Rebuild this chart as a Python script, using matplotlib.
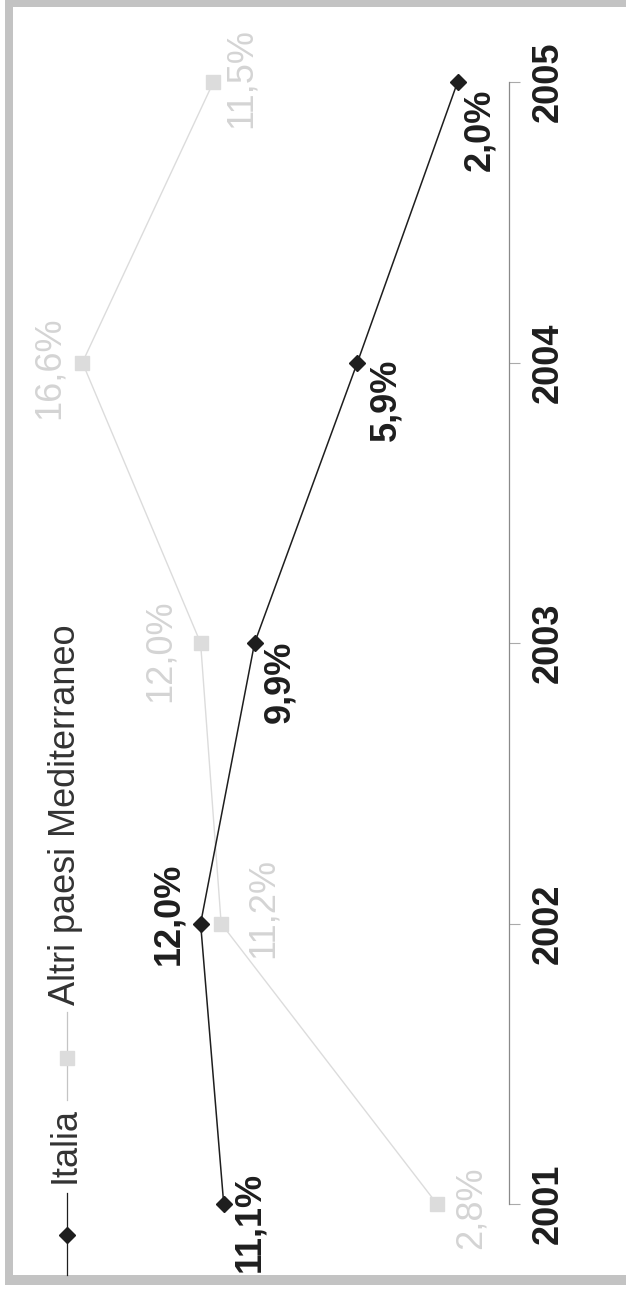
import matplotlib
matplotlib.use("Agg")
import matplotlib.pyplot as plt
from matplotlib.lines import Line2D
from matplotlib.patches import Rectangle

plt.rcParams['font.family'] = ['Liberation Sans', 'DejaVu Sans']

# data
years = [2001, 2002, 2003, 2004, 2005]
year_labels = ["2001", "2002", "2003", "2004", "2005"]
italia = [11.1, 12.0, 9.9, 5.9, 2.0]
altri = [2.8, 11.2, 12.0, 16.6, 11.5]
italia_labels = ["11,1%", "12,0%", "9,9%", "5,9%", "2,0%"]
altri_labels = ["2,8%", "11,2%", "12,0%", "16,6%", "11,5%"]
series_names = ["Italia", "Altri paesi Mediterraneo"]

# layout (pixels of the 626x1290 picture, y measured from top)
W, H = 626, 1290
ZERO_X = 509          # where value 0 sits
PX_PER_UNIT = 25.7
FIRST_Y = 1204        # where the first year sits
PX_PER_YEAR = 280.5
italia_off = [(26, 18), (-32, -10), (25, 39), (29, 37), (22, 48)]
altri_off = [(34, 4), (42, -15), (-40, 8), (-33, 5), (28, -4)]

DARK = "#1e1e1e"
LIGHT = "#dcdcdc"
LIGHT_TXT = "#d4d4d4"
FS = 26


def fpos(x, y):
    return x / W, 1 - y / H


fig = plt.figure(figsize=(W / 100, H / 100), dpi=100)
ax = fig.add_axes([0, 0, 1, 1])
ax.patch.set_visible(False)

# values grow to the left, years grow upwards
ax.set_xlim(ZERO_X / PX_PER_UNIT, -(W - ZERO_X) / PX_PER_UNIT)
ax.set_ylim(years[0] - (H - FIRST_Y) / PX_PER_YEAR, years[0] + FIRST_Y / PX_PER_YEAR)

ax.plot(altri, years, color=LIGHT, lw=1.0, marker='s', ms=10,
        mfc=LIGHT, mec=LIGHT, zorder=2)
ax.plot(italia, years, color=DARK, lw=1.1, marker='D', ms=8,
        mfc=DARK, mec=DARK, zorder=3)

for v, yr, lab, (dx, dy) in zip(italia, years, italia_labels, italia_off):
    ax.annotate(lab, (v, yr), xytext=(dx, -dy), textcoords='offset pixels',
                rotation=90, ha='center', va='center', fontsize=FS,
                fontweight='bold', color=DARK)
for v, yr, lab, (dx, dy) in zip(altri, years, altri_labels, altri_off):
    ax.annotate(lab, (v, yr), xytext=(dx, -dy), textcoords='offset pixels',
                rotation=90, ha='center', va='center', fontsize=FS,
                color=LIGHT_TXT)

# category axis drawn as the right spine at value 0
for s in ['top', 'bottom', 'left']:
    ax.spines[s].set_visible(False)
ax.spines['right'].set_position(('data', 0))
ax.spines['right'].set_bounds(years[0], years[-1])
ax.spines['right'].set_color("#8a8a8a")
ax.spines['right'].set_linewidth(0.9)
ax.set_xticks([])
ax.yaxis.tick_right()
ax.set_yticks(years)
ax.set_yticklabels(year_labels)
ax.tick_params(axis='y', direction='out', length=8, width=0.8, color="#aaaaaa",
               pad=8, labelsize=FS)
for t in ax.get_yticklabels():
    t.set_rotation(90)
    t.set_va('center')
    t.set_ha('left')
    t.set_fontweight('bold')
    t.set_color(DARK)

# legend, drawn by hand because it is turned on its side
fig.add_artist(Line2D([fpos(67, 1275)[0], fpos(67, 1193)[0]],
                      [fpos(67, 1275)[1], fpos(67, 1193)[1]],
                      transform=fig.transFigure, color=DARK, lw=0.9))
fig.add_artist(Line2D([fpos(67, 1235)[0]], [fpos(67, 1235)[1]],
                      transform=fig.transFigure, marker='D', ms=8,
                      color=DARK, lw=0))
fig.text(*fpos(75, 1183), series_names[0], rotation=90, rotation_mode='anchor',
         ha='left', va='baseline', fontsize=FS, color="#333333")
fig.add_artist(Line2D([fpos(67, 1100)[0], fpos(67, 1012)[0]],
                      [fpos(67, 1100)[1], fpos(67, 1012)[1]],
                      transform=fig.transFigure, color="#c4c4c4", lw=0.9))
fig.add_artist(Line2D([fpos(67, 1058)[0]], [fpos(67, 1058)[1]],
                      transform=fig.transFigure, marker='s', ms=10,
                      color=LIGHT, lw=0))
fig.text(*fpos(75, 1005), series_names[1], rotation=90, rotation_mode='anchor',
         ha='left', va='baseline', fontsize=FS, color="#333333")

# grey frame (top, left, bottom)
frame = "#c3c3c3"
for x0, y0, x1, y1 in [(5, 0, W, 7), (5, 0, 13, 1285), (5, 1275, W, 1285)]:
    fig.add_artist(Rectangle(fpos(x0, y1), (x1 - x0) / W, (y1 - y0) / H,
                             transform=fig.transFigure, color=frame, lw=0))

fig.savefig("out.png", dpi=100)
